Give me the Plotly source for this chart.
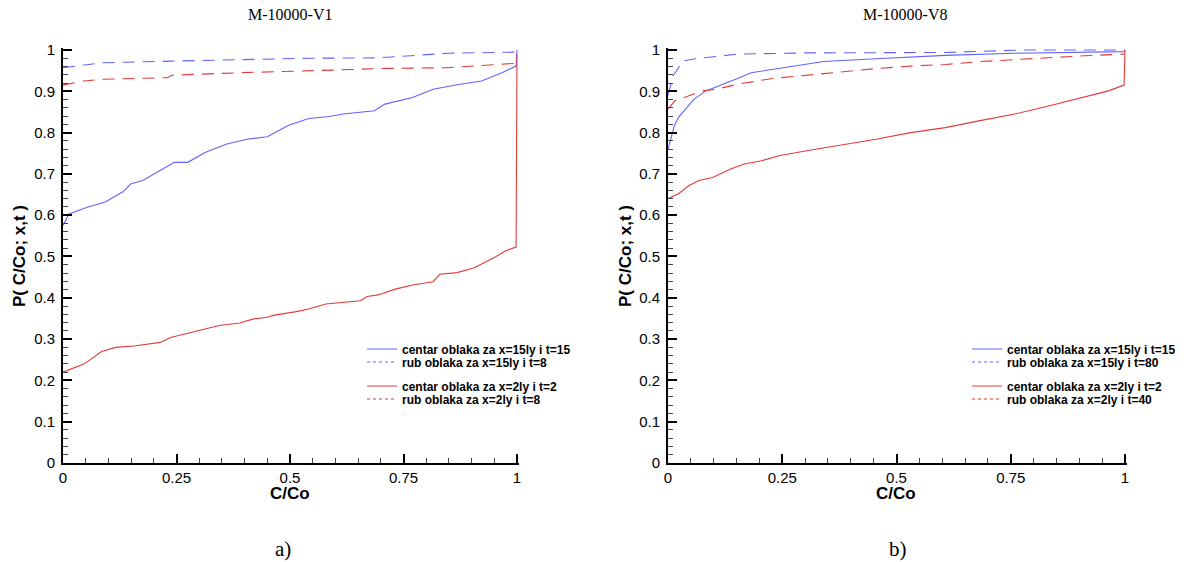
import plotly.graph_objects as go

# ---------------- data ----------------
# Left panel: M-10000-V1
v1_blue_c_x = [0, 0.013, 0.055, 0.093, 0.131, 0.15, 0.176, 0.203, 0.245, 0.275, 0.313, 0.359, 0.405,
               0.45, 0.496, 0.541, 0.587, 0.617, 0.686, 0.709, 0.77, 0.815, 0.868, 0.922, 0.967, 0.998, 1.0]
v1_blue_c_y = [0.575, 0.603, 0.62, 0.632, 0.656, 0.676, 0.684, 0.702, 0.728, 0.728, 0.752, 0.772, 0.784,
               0.79, 0.817, 0.834, 0.839, 0.845, 0.853, 0.869, 0.885, 0.905, 0.916, 0.925, 0.945, 0.961, 1.0]
v1_blue_r_x = [0, 0.085, 0.237, 0.39, 0.54, 0.693, 0.846, 1.0]
v1_blue_r_y = [0.957, 0.969, 0.973, 0.977, 0.98, 0.981, 0.992, 0.995]
v1_red_c_x = [0, 0.047, 0.085, 0.116, 0.161, 0.184, 0.214, 0.237, 0.268, 0.298, 0.344, 0.389, 0.42, 0.45,
              0.465, 0.511, 0.541, 0.579, 0.655, 0.67, 0.694, 0.732, 0.77, 0.815, 0.83, 0.868, 0.906,
              0.951, 0.975, 0.998, 1.0]
v1_red_c_y = [0.22, 0.24, 0.27, 0.28, 0.284, 0.288, 0.292, 0.304, 0.312, 0.32, 0.333, 0.339, 0.349, 0.353,
              0.358, 0.366, 0.373, 0.385, 0.393, 0.403, 0.407, 0.421, 0.431, 0.439, 0.457, 0.461, 0.473,
              0.498, 0.514, 0.523, 0.99]
v1_red_r_x = [0, 0.047, 0.085, 0.23, 0.24, 0.389, 0.617, 0.693, 0.846, 1.0]
v1_red_r_y = [0.915, 0.925, 0.929, 0.933, 0.939, 0.945, 0.952, 0.955, 0.957, 0.968]

# Right panel: M-10000-V8
v8_blue_c_x = [0, 0.0076, 0.014, 0.023, 0.038, 0.057, 0.083, 0.121, 0.152, 0.182, 0.228, 0.273, 0.341,
               0.455, 0.607, 0.759, 0.91, 0.998, 1.0]
v8_blue_c_y = [0.76, 0.792, 0.817, 0.837, 0.857, 0.881, 0.901, 0.917, 0.931, 0.945, 0.953, 0.961, 0.972,
               0.979, 0.987, 0.992, 0.995, 0.996, 1.0]
v8_blue_r_x = [0, 0.004, 0.011, 0.023, 0.03, 0.06, 0.152, 0.303, 0.455, 0.607, 0.78, 1.0]
v8_blue_r_y = [0.89, 0.91, 0.937, 0.957, 0.973, 0.979, 0.99, 0.993, 0.994, 0.994, 1.0, 1.0]
v8_red_c_x = [0, 0.023, 0.046, 0.068, 0.099, 0.137, 0.167, 0.205, 0.243, 0.281, 0.319, 0.379, 0.455,
              0.531, 0.607, 0.683, 0.759, 0.835, 0.91, 0.964, 0.998, 1.0]
v8_red_c_y = [0.64, 0.652, 0.672, 0.684, 0.692, 0.712, 0.724, 0.732, 0.744, 0.752, 0.759, 0.77, 0.784,
              0.8, 0.812, 0.829, 0.845, 0.865, 0.885, 0.901, 0.915, 1.0]
v8_red_r_x = [0, 0.015, 0.046, 0.076, 0.106, 0.152, 0.228, 0.303, 0.379, 0.455, 0.531, 0.607, 0.683,
              0.759, 0.835, 0.91, 0.998]
v8_red_r_y = [0.857, 0.877, 0.889, 0.901, 0.905, 0.917, 0.931, 0.939, 0.947, 0.955, 0.961, 0.965, 0.972,
              0.977, 0.981, 0.986, 0.99]

names_v1 = ["centar oblaka za x=15ly i t=15", "rub oblaka za x=15ly i t=8",
            "centar oblaka za x=2ly i t=2", "rub oblaka za x=2ly i t=8"]
names_v8 = ["centar oblaka za x=15ly i t=15", "rub oblaka za x=15ly i t=80",
            "centar oblaka za x=2ly i t=2", "rub oblaka za x=2ly i t=40"]
titles = ["M-10000-V1", "M-10000-V8"]
panel_labels = ["a)", "b)"]
x_tickvals = [0, 0.25, 0.5, 0.75, 1]
x_ticktext = ["0", "0.25", "0.5", "0.75", "1"]
y_tickvals = [0, 0.1, 0.2, 0.3, 0.4, 0.5, 0.6, 0.7, 0.8, 0.9, 1]
y_ticktext = ["0", "0.1", "0.2", "0.3", "0.4", "0.5", "0.6", "0.7", "0.8", "0.9", "1"]

# ---------------- styling / layout ----------------
W, H = 1189, 562
BLUE = "#6262ff"
RED = "#e23a3a"
RMAX = 1.005


def px(xp):
    return xp / W


def py(yp):
    return (H - yp) / H


# plot area pixel geometry (value 0 and value 1 positions)
L_x0, L_x1 = 63, 517
R_x0, R_x1 = 668, 1125
Y0, Y1 = 463, 50

fig = go.Figure()

series = [
    ("x", "y", v1_blue_c_x, v1_blue_c_y, BLUE, "solid", names_v1[0], "legend"),
    ("x", "y", v1_blue_r_x, v1_blue_r_y, BLUE, "12px,8px", names_v1[1], "legend2"),
    ("x", "y", v1_red_c_x, v1_red_c_y, RED, "solid", names_v1[2], "legend3"),
    ("x", "y", v1_red_r_x, v1_red_r_y, RED, "12px,8px", names_v1[3], "legend4"),
    ("x2", "y2", v8_blue_c_x, v8_blue_c_y, BLUE, "solid", names_v8[0], "legend5"),
    ("x2", "y2", v8_blue_r_x, v8_blue_r_y, BLUE, "12px,8px", names_v8[1], "legend6"),
    ("x2", "y2", v8_red_c_x, v8_red_c_y, RED, "solid", names_v8[2], "legend7"),
    ("x2", "y2", v8_red_r_x, v8_red_r_y, RED, "12px,8px", names_v8[3], "legend8"),
]
for xa, ya, xs, ys, col, dash, name, leg in series:
    # the plotted curve
    fig.add_trace(go.Scatter(x=xs, y=ys, xaxis=xa, yaxis=ya, mode="lines", name=name,
                             line=dict(color=col, width=1.1, dash=dash), showlegend=False))
    # legend entry (short dash sample as in the reference)
    fig.add_trace(go.Scatter(x=[None], y=[None], xaxis=xa, yaxis=ya, mode="lines", name=name,
                             line=dict(color=col, width=1.1,
                                       dash="solid" if dash == "solid" else "3px,3px"),
                             legend=leg, showlegend=True, hoverinfo="skip"))

tickfont = dict(family="Arial, Liberation Sans", size=15, color="black")


def xaxis(dom, anchor):
    return dict(domain=dom, range=[0, RMAX], anchor=anchor, showline=True, linecolor="black",
                linewidth=2, ticks="inside", ticklen=9, tickwidth=2, tickcolor="black",
                tickvals=x_tickvals, ticktext=x_ticktext, tickfont=tickfont, ticklabelstandoff=0,
                minor=dict(ticks="inside", ticklen=5, tickwidth=1, tickcolor="#444", dtick=0.05,
                           tick0=0, showgrid=False),
                showgrid=False, zeroline=False, fixedrange=True)


def yaxis(dom, anchor):
    return dict(domain=dom, range=[0, RMAX], anchor=anchor, showline=True, linecolor="black",
                linewidth=2, ticks="inside", ticklen=9, tickwidth=2, tickcolor="black",
                tickvals=y_tickvals, ticktext=y_ticktext, tickfont=tickfont, ticklabelstandoff=3,
                minor=dict(ticks="inside", ticklen=5, tickwidth=1, tickcolor="#444", dtick=0.02,
                           tick0=0, showgrid=False),
                showgrid=False, zeroline=False, fixedrange=True)


ydom = [py(Y0), py(Y0 - (Y0 - Y1) * RMAX)]
layout = dict(
    width=W, height=H, margin=dict(l=0, r=0, t=0, b=0, autoexpand=False),
    paper_bgcolor="white", plot_bgcolor="white",
    xaxis=xaxis([px(L_x0), px(L_x0 + (L_x1 - L_x0) * RMAX)], "y"),
    yaxis=yaxis(ydom, "x"),
    xaxis2=xaxis([px(R_x0), px(R_x0 + (R_x1 - R_x0) * RMAX)], "y2"),
    yaxis2=yaxis(ydom, "x2"),
)

legfont = dict(family="Arial, Liberation Sans", size=12, color="black", weight="bold")
row_y = [349, 362, 386, 399]
leg_keys = ["legend", "legend2", "legend3", "legend4", "legend5", "legend6", "legend7", "legend8"]
for i, key in enumerate(leg_keys):
    lx = 362 if i < 4 else 967
    layout[key] = dict(x=px(lx), y=py(row_y[i % 4]), xanchor="left", yanchor="middle",
                       bgcolor="rgba(0,0,0,0)", borderwidth=0, font=legfont,
                       itemclick=False, itemdoubleclick=False)

annotations = []
serif = "Times New Roman, Liberation Serif, serif"
for cx, t, lab in [(290, titles[0], panel_labels[0]), (905, titles[1], panel_labels[1])]:
    annotations.append(dict(x=px(cx), y=py(14), xref="paper", yref="paper", text=t, showarrow=False,
                            xanchor="center", yanchor="middle",
                            font=dict(family=serif, size=16, color="black")))
    annotations.append(dict(x=px(cx - 7), y=py(549), xref="paper", yref="paper", text=lab,
                            showarrow=False, xanchor="center", yanchor="middle",
                            font=dict(family=serif, size=21, color="black")))
boldfont = dict(family="Arial, Liberation Sans", size=17, color="black", weight="bold")
for cx in [290, 896]:
    annotations.append(dict(x=px(cx), y=py(494), xref="paper", yref="paper", text="C/Co",
                            showarrow=False, xanchor="center", yanchor="middle", font=boldfont))
for cx in [19, 625]:
    annotations.append(dict(x=px(cx), y=py(256), xref="paper", yref="paper", text="P( C/Co; x,t )",
                            showarrow=False, xanchor="center", yanchor="middle", textangle=-90,
                            font=boldfont))
layout["annotations"] = annotations

fig.update_layout(**layout)
fig.write_html("out.html", config={"displayModeBar": False},
               post_script="document.body.style.margin='0';document.body.style.padding='0';"
                           "document.documentElement.style.overflow='hidden';")
